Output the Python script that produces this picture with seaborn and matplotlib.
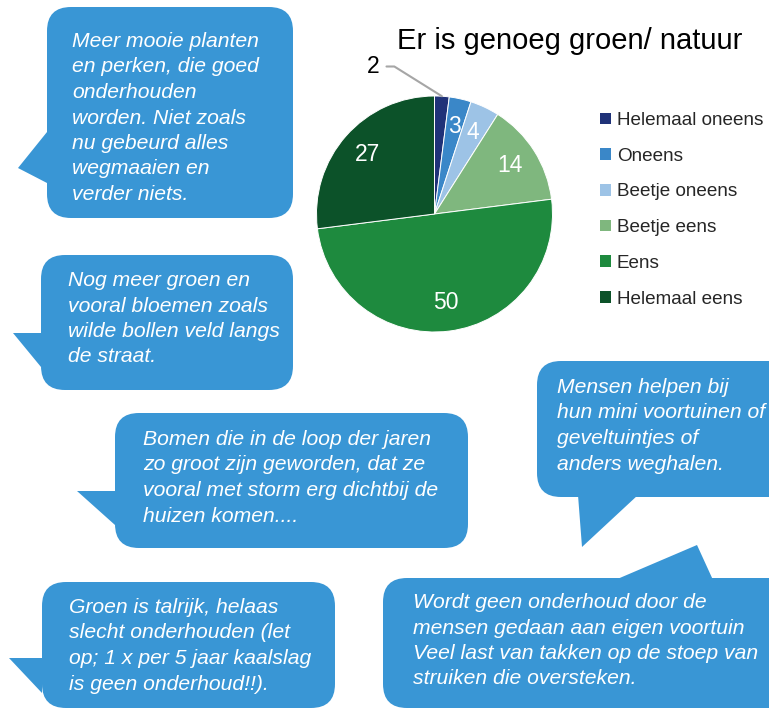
import matplotlib
matplotlib.use("Agg")
import matplotlib.pyplot as plt
from matplotlib.patches import FancyBboxPatch, Polygon
import seaborn as sns
import numpy as np

# --- data ---
title = "Er is genoeg groen/ natuur"
categories = ["Helemaal oneens", "Oneens", "Beetje oneens", "Beetje eens", "Eens", "Helemaal eens"]
values = [2, 3, 4, 14, 50, 27]
colors = ["#1f3278", "#3a87c8", "#9dc3e6", "#7fb77e", "#1e8a3e", "#0c5229"]

comments = [
    ["Meer mooie planten", "en perken, die goed", "onderhouden", "worden. Niet zoals",
     "nu gebeurd alles", "wegmaaien en", "verder niets."],
    ["Nog meer groen en", "vooral bloemen zoals", "wilde bollen veld langs", "de straat."],
    ["Bomen die in de loop der jaren", "zo groot zijn geworden, dat ze",
     "vooral met storm erg dichtbij de", "huizen komen...."],
    ["Groen is talrijk, helaas", "slecht onderhouden (let", "op; 1 x per 5 jaar kaalslag",
     "is geen onderhoud!!)."],
    ["Mensen helpen bij", "hun mini voortuinen of", "geveltuintjes of", "anders weghalen."],
    ["Wordt geen onderhoud door de", "mensen gedaan aan eigen voortuin",
     "Veel last van takken op de stoep van", "struiken die oversteken."],
]

# bubble layout in pixels: box (x0, y0, x1, y1), tail triangle, text x, first baseline
bubble_boxes = [(47, 7, 293, 218), (41, 255, 293, 390), (115, 413, 468, 548),
                (42, 582, 335, 708), (537, 361, 800, 497), (383, 578, 800, 708)]
bubble_tails = [[(47, 132), (18, 168), (47, 183)],
                [(41, 333), (13, 333), (41, 367)],
                [(115, 491), (77, 491), (115, 525)],
                [(42, 658), (9, 658), (42, 693)],
                [(578, 495), (582, 547), (638, 495)],
                [(615, 580), (697, 545), (713, 580)]]
text_pos = [(72, 47), (68, 286), (143, 445), (69, 613), (557, 393), (413, 608)]

W, H = 769, 709
bubble_color = "#3996d5"

sns.set_theme(style="white")
plt.rcParams["font.family"] = ["Liberation Sans", "DejaVu Sans"]

fig = plt.figure(figsize=(W / 100, H / 100), dpi=100)
fig.patch.set_facecolor("white")

# overlay axes in pixel coordinates for bubbles and title
ov = fig.add_axes([0, 0, 1, 1])
ov.set_xlim(0, W)
ov.set_ylim(H, 0)
ov.axis("off")

for box, tail, (tx, ty), lines in zip(bubble_boxes, bubble_tails, text_pos, comments):
    x0, y0, x1, y1 = box
    ov.add_patch(FancyBboxPatch((x0, y0), x1 - x0, y1 - y0,
                                boxstyle="round,pad=0,rounding_size=24",
                                fc=bubble_color, ec="none"))
    ov.add_patch(Polygon(tail, closed=True, fc=bubble_color, ec="none"))
    for i, line in enumerate(lines):
        ov.text(tx, ty + i * 25.5, line, color="white", fontsize=15.2,
                style="italic", ha="left", va="baseline")

ov.text(570, 49, title, fontsize=21, color="black", ha="center", va="baseline")

# pie axes
cx, cy, r = 434.5, 214, 118
ax = fig.add_axes([(cx - r) / W, (H - cy - r) / H, 2 * r / W, 2 * r / H])
wedges, texts, autotexts = ax.pie(
    values, colors=colors, startangle=90, counterclock=False,
    autopct=lambda p: "" if round(p) == values[0] else f"{round(p):d}",
    pctdistance=0.76, wedgeprops=dict(edgecolor="white", linewidth=0.7),
    textprops=dict(color="white", fontsize=16.5))
ax.set_xlim(-1, 1)
ax.set_ylim(-1, 1)
ax.set_aspect("equal")

# outside label for the smallest slice with leader line
w0 = wedges[0]
mid = np.deg2rad((w0.theta1 + w0.theta2) / 2)
ax.annotate(f"{values[0]}", xy=(np.cos(mid), np.sin(mid)), xytext=(-0.47, 1.25),
            ha="right", va="center", fontsize=16.5, color="black",
            arrowprops=dict(arrowstyle="-", color="#a6a6a6", lw=1.5,
                            connectionstyle="angle,angleA=0,angleB=148",
                            shrinkA=3, shrinkB=0, relpos=(1, 0.5)),
            annotation_clip=False)

leg = ax.legend(wedges, categories, loc="upper left",
                bbox_to_anchor=(600 / W, 1 - 112 / H), bbox_transform=fig.transFigure,
                frameon=False, fontsize=13.6, handlelength=0.57, handleheight=0.57,
                handletextpad=0.32, labelspacing=0.99, borderpad=0, borderaxespad=0)
for h in leg.legend_handles:
    h.set_edgecolor("none")

fig.savefig("out.png", dpi=100)
